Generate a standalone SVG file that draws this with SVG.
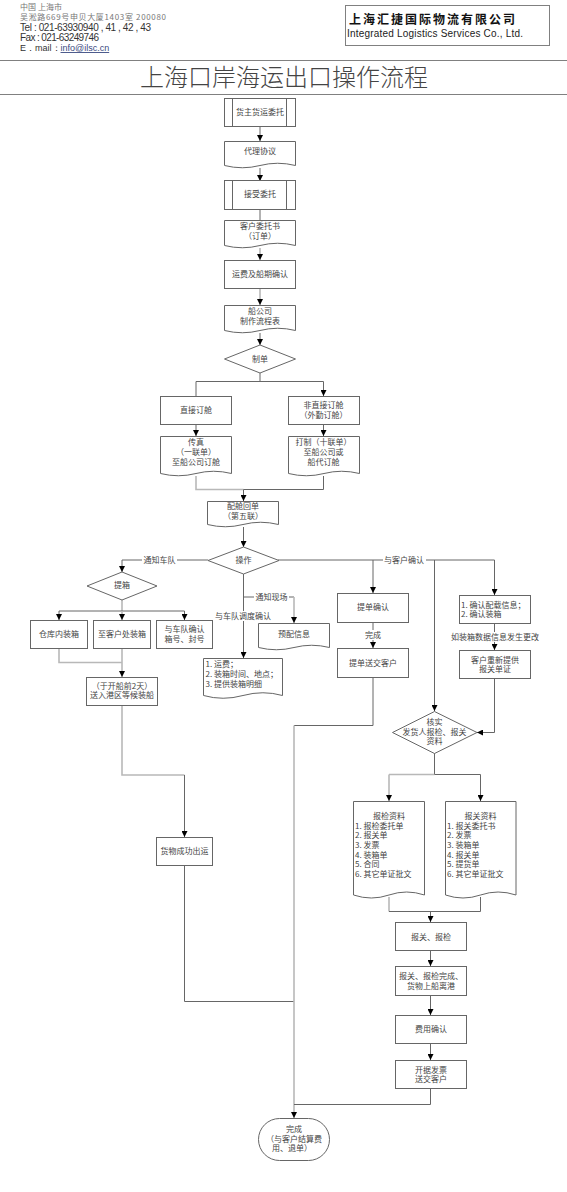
<svg xmlns="http://www.w3.org/2000/svg" width="567" height="1192" viewBox="0 0 567 1192">
<style>
text{font-family:"Noto Sans CJK SC","Liberation Sans",sans-serif;font-size:8px;fill:#444}
.c{text-anchor:middle}
.s{fill:#fff;stroke:#666;stroke-width:1}
.h{fill:#777;font-size:8px}
.e{font-family:"Liberation Sans",sans-serif;font-size:10px;fill:#333}
.w{fill:#fff}
#connectors path{fill:none;stroke:#666;stroke-width:1}
#connectors path.g{stroke:#b8b8b8;stroke-width:1.6}
#connectors path.a{marker-end:url(#arrow)}
.rule{stroke:#808080;stroke-width:1}
</style>
<defs>
<marker id="arrow" markerUnits="userSpaceOnUse" markerWidth="6" markerHeight="6" refX="6" refY="3" orient="auto"><path d="M0,0L6,3L0,6z" fill="#000"/></marker>
</defs>
<rect width="567" height="1192" fill="#fff"/>
<g id="header">
<text class="h" x="20" y="9.5" textLength="42">中国  上海市</text>
<text class="h" x="20" y="20" textLength="146">吴淞路669号申贝大厦1403室   200080</text>
<text class="e" x="20" y="31" textLength="131" lengthAdjust="spacing">Tel : 021-63930940 , 41 , 42 , 43</text>
<text class="e" x="20" y="41" textLength="79">Fax : 021-63249746</text>
<text class="e" x="20" y="51" style="font-size:9px">E．mail：<tspan text-decoration="underline" fill="#3a4a80">info@ilsc.cn</tspan></text>
</g>
<g id="company">
<rect x="345.5" y="5.5" width="204" height="40" fill="#fff" stroke="#808080"/>
<text x="349" y="24" style="font-size:12px;font-weight:700;fill:#111;letter-spacing:2px">上海汇捷国际物流有限公司</text>
<text class="e" x="347" y="37" textLength="176" style="fill:#222">Integrated Logistics Services Co., Ltd.</text>
</g>
<g id="title">
<line class="rule" x1="0" y1="60.5" x2="567" y2="60.5"/>
<line class="rule" x1="0" y1="94.5" x2="567" y2="94.5"/>
<text class="c" x="284" y="86" style="font-size:24px;font-weight:300;fill:#444">上海口岸海运出口操作流程</text>
</g>
<g id="connectors">
<path class="a" d="M260,127V141"/>
<path class="a" d="M260,168V181"/>
<path d="M260,209V221"/>
<path class="a g" d="M260,248V260"/>
<path class="a g" d="M260,288V305"/>
<path class="a" d="M260,333V345"/>
<path d="M260,373V381.5"/>
<path class="a" d="M196,396V381.5H323.5V396"/>
<path class="a" d="M196,424V436"/>
<path class="a" d="M323.5,424V436"/>
<path class="g" d="M196,476V489.5H243.5"/>
<path d="M323.5,476V489.5H243.5"/>
<path class="a" d="M243.5,489.5V501"/>
<path class="a" d="M243.5,527V547"/>
<path class="a" d="M208,560H122V572"/>
<path class="g" d="M122,600V611"/>
<path d="M59,611H184.5"/>
<path class="a" d="M59,611V620"/>
<path class="a g" d="M122,611V620"/>
<path class="a" d="M184.5,611V620"/>
<path class="g" d="M59,648V662.5H122"/>
<path class="a g" d="M122,648V677"/>
<path class="g" d="M122,705V775H184.5"/>
<path class="a" d="M184.5,775V837"/>
<path d="M184.5,865V1001.5H294"/>
<path class="a" d="M243.5,574V658"/>
<path d="M243.5,597H294"/>
<path class="a g" d="M294,597V623"/>
<path d="M278,560H494.5"/>
<path class="a" d="M373,560V593"/>
<path class="a" d="M434.5,560V711"/>
<path class="a" d="M494.5,560V595"/>
<path class="a" d="M373,622V648"/>
<path d="M373,677V725.5H294"/>
<path class="a g" d="M294,725.5V1118"/>
<path class="a" d="M494.5,624V650"/>
<path class="a" d="M494.5,678V732.5H477"/>
<path d="M434.5,753V774.5"/>
<path class="g" d="M389,774.5H434.5"/>
<path d="M434.5,774.5H480.5"/>
<path class="a g" d="M389,774.5V801"/>
<path class="a" d="M480.5,774.5V801"/>
<path class="g" d="M389,897V911.5"/>
<path d="M480.5,897V911.5H389"/>
<path class="a" d="M430.5,911.5V922"/>
<path class="a" d="M430.5,951V966"/>
<path class="a" d="M430.5,995V1015"/>
<path class="a" d="M430.5,1043V1060"/>
<path d="M430.5,1088V1104.5H294"/>
</g>
<g id="n1"><rect class="s" x="224.5" y="98.5" width="71" height="28"/><path class="s" d="M232.5,98.5V126.5M286.5,98.5V126.5"/><text class="c" x="260" y="115">货主货运委托</text></g>
<g id="n2"><path class="s" d="M224.5,141.5H295.5V165.5Q277.5,161 260,165.5T224.5,165.5Z"/><text class="c" x="260" y="154">代理协议</text></g>
<g id="n3"><rect class="s" x="224.5" y="180.5" width="71" height="29"/><path class="s" d="M232.5,180.5V209.5M286.5,180.5V209.5"/><text class="c" x="260" y="197">接受委托</text></g>
<g id="n4"><path class="s" d="M224.5,220.5H295.5V245.5Q277.5,241 260,245.5T224.5,245.5Z"/><text class="c" x="260" y="229">客户委托书</text><text class="c" x="260" y="239">（订单）</text></g>
<g id="n5"><rect class="s" x="224.5" y="260.5" width="71" height="28"/><text class="c" x="260" y="277">运费及船期确认</text></g>
<g id="n6"><path class="s" d="M224.5,305.5H295.5V330.5Q277.5,326 260,330.5T224.5,330.5Z"/><text class="c" x="260" y="314">船公司</text><text class="c" x="260" y="324">制作流程表</text></g>
<g id="n7"><path class="s" d="M224.5,359L260,345L295.5,359L260,373Z"/><text class="c" x="260" y="362">制单</text></g>
<g id="n8"><rect class="s" x="160.5" y="396.5" width="71" height="28"/><text class="c" x="196" y="413">直接订舱</text></g>
<g id="n9"><rect class="s" x="288.5" y="396.5" width="71" height="28"/><text class="c" x="323.5" y="408">非直接订舱</text><text class="c" x="323.5" y="418">（外勤订舱）</text></g>
<g id="n10"><path class="s" d="M160.5,436.5H231.5V473.5Q213.5,469 196,473.5T160.5,473.5Z"/><text class="c" x="196" y="445">传真</text><text class="c" x="196" y="455">（一联单）</text><text class="c" x="196" y="465">至船公司订舱</text></g>
<g id="n11"><path class="s" d="M288.5,436.5H359.5V473.5Q341.5,469 324,473.5T288.5,473.5Z"/><text class="c" x="323.5" y="445">打制（十联单）</text><text class="c" x="323.5" y="455">至船公司或</text><text class="c" x="323.5" y="465">船代订舱</text></g>
<g id="n12"><path class="s" d="M207.5,501.5H278.5V524.5Q260.5,520 243,524.5T207.5,524.5Z"/><text class="c" x="243" y="509">配舱回单</text><text class="c" x="243" y="519">（第五联）</text></g>
<g id="n13"><path class="s" d="M208,560.5L243.5,547L279,560.5L243.5,574Z"/><text class="c" x="243.5" y="563">操作</text></g>
<g id="n14"><path class="s" d="M87,586L122,572L157,586L122,600Z"/><text class="c" x="122" y="588">提箱</text></g>
<g id="n15"><rect class="s" x="30.5" y="620.5" width="57" height="28"/><text class="c" x="59" y="637">仓库内装箱</text></g>
<g id="n16"><rect class="s" x="93.5" y="620.5" width="57" height="28"/><text class="c" x="122" y="637">至客户处装箱</text></g>
<g id="n17"><rect class="s" x="156.5" y="620.5" width="56" height="28"/><text class="c" x="184.5" y="632">与车队确认</text><text class="c" x="184.5" y="642">箱号、封号</text></g>
<g id="n18"><rect class="s" x="86.5" y="677.5" width="71" height="28"/><text class="c" x="122" y="689">（于开船前2天）</text><text class="c" x="122" y="698">送入港区等候装船</text></g>
<g id="n19"><rect class="s" x="156.5" y="837.5" width="56" height="28"/><text class="c" x="184.5" y="854">货物成功出运</text></g>
<g id="n20"><path class="s" d="M203.5,658.5H282.5V695.5Q263 690 243,695.5T203.5,695.5Z"/><text x="205.5" y="667">1. 运费；</text><text x="205.5" y="677">2. 装箱时间、地点；</text><text x="205.5" y="687">3. 提供装箱明细</text></g>
<g id="n21"><path class="s" d="M258.5,623.5H329.5V647.5Q311.5,643 294,647.5T258.5,647.5Z"/><text class="c" x="294" y="637">预配信息</text></g>
<g id="n22"><rect class="s" x="337.5" y="593.5" width="71" height="29"/><text class="c" x="373" y="610">提单确认</text></g>
<g id="n23"><rect class="s" x="337.5" y="648.5" width="71" height="29"/><text class="c" x="373" y="665.5">提单送交客户</text></g>
<g id="n24"><rect class="s" x="459.5" y="595.5" width="71" height="28"/><text x="461" y="607.5">1. 确认配载信息；</text><text x="461" y="617">2. 确认装箱</text></g>
<g id="n25"><rect class="s" x="459.5" y="650.5" width="71" height="28"/><text class="c" x="495" y="663">客户重新提供</text><text class="c" x="495" y="672">报关单证</text></g>
<g id="n26"><path class="s" d="M392.5,732.5L434.5,711.5L477,732.5L434.5,753.5Z"/><text class="c" x="434.5" y="725">核实</text><text class="c" x="434.5" y="735">发货人报检、报关</text><text class="c" x="434.5" y="744">资料</text></g>
<g id="n27"><path class="s" d="M353.5,801.5H424.5V895Q406.5,889 389,895T353.5,895Z"/><text class="c" x="389" y="818.5">报检资料</text><text x="355" y="828.5">1. 报检委托单</text><text x="355" y="838">2. 报关单</text><text x="355" y="847.5">3. 发票</text><text x="355" y="857.5">4. 装箱单</text><text x="355" y="867">5. 合同</text><text x="355" y="876.5">6. 其它单证批文</text></g>
<g id="n28"><path class="s" d="M445.5,801.5H516V895Q498,889 480.5,895T445.5,895Z"/><text class="c" x="480.5" y="818.5">报关资料</text><text x="447" y="828.5">1. 报关委托书</text><text x="447" y="838">2. 发票</text><text x="447" y="847.5">3. 装箱单</text><text x="447" y="857.5">4. 报关单</text><text x="447" y="867">5. 提货单</text><text x="447" y="876.5">6. 其它单证批文</text></g>
<g id="n29"><rect class="s" x="395.5" y="922.5" width="71" height="28"/><text class="c" x="431" y="939.5">报关、报检</text></g>
<g id="n30"><rect class="s" x="395.5" y="966.5" width="71" height="29"/><text class="c" x="431" y="979">报关、报检完成、</text><text class="c" x="431" y="989">货物上船离港</text></g>
<g id="n31"><rect class="s" x="395.5" y="1015.5" width="71" height="28"/><text class="c" x="431" y="1031.5">费用确认</text></g>
<g id="n32"><rect class="s" x="395.5" y="1060.5" width="71" height="28"/><text class="c" x="431" y="1073">开据发票</text><text class="c" x="431" y="1082">送交客户</text></g>
<g id="n33"><rect class="s" x="258.5" y="1118.5" width="71" height="42" rx="21" ry="21"/><text class="c" x="294" y="1132">完成</text><text class="c" x="294" y="1142">（与客户结算费</text><text class="c" x="292" y="1151">用、退单）</text></g>
<g id="labels">
<rect class="w" x="142" y="555" width="35" height="10"/><text class="c" x="159.5" y="563">通知车队</text>
<rect class="w" x="254" y="592" width="35" height="10"/><text class="c" x="271.5" y="600">通知现场</text>
<rect class="w" x="214" y="611" width="58" height="10"/><text class="c" x="243" y="619">与车队调度确认</text>
<rect class="w" x="383" y="555" width="43" height="10"/><text class="c" x="404" y="563">与客户确认</text>
<rect class="w" x="364" y="630" width="18" height="10"/><text class="c" x="373" y="638">完成</text>
<rect class="w" x="450" y="632" width="90" height="10"/><text class="c" x="495" y="639.5">如装箱数据信息发生更改</text>
</g>
</svg>
